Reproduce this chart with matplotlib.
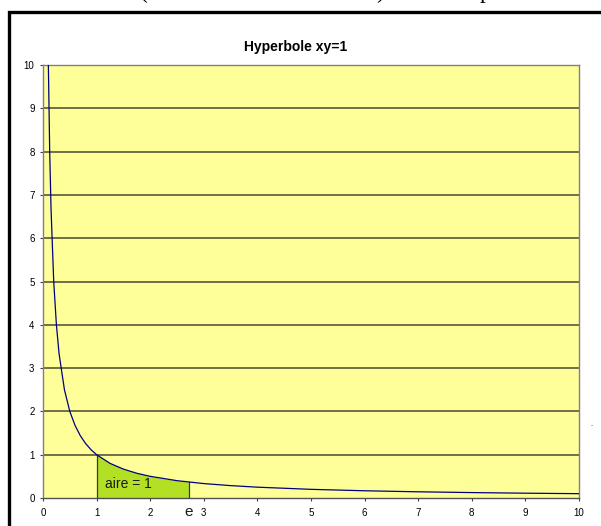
import matplotlib
matplotlib.use("Agg")
import matplotlib.pyplot as plt
from matplotlib.patches import Rectangle

# data
curve_x = [0.1, 0.125, 0.15, 0.2, 0.25, 0.3, 0.4, 0.5, 0.6, 0.7, 0.8, 0.9, 1.0,
           1.25, 1.5, 1.75, 2.0, 2.5, 3.0, 3.5, 4.0, 5.0, 6.0, 7.0, 8.0, 9.0, 10.0]
curve_y = [10.0, 8.0, 6.67, 5.0, 4.0, 3.33, 2.5, 2.0, 1.67, 1.43, 1.25, 1.11, 1.0,
           0.8, 0.667, 0.571, 0.5, 0.4, 0.333, 0.286, 0.25, 0.2, 0.167, 0.143, 0.125, 0.111, 0.1]
area_x = [1.0, 1.25, 1.5, 1.75, 2.0, 2.25, 2.5, 2.718]
area_y = [1.0, 0.8, 0.667, 0.571, 0.5, 0.444, 0.4, 0.368]
x_ticks = [0, 1, 2, 3, 4, 5, 6, 7, 8, 9, 10]
y_ticks = [0, 1, 2, 3, 4, 5, 6, 7, 8, 9, 10]
e_value = 2.718
title = "Hyperbole xy=1"
area_label = "aire = 1"

W, H = 601, 526
fig = plt.figure(figsize=(W / 100, H / 100), dpi=100)
fig.patch.set_facecolor("white")

ax = fig.add_axes([43 / W, 1 - 498 / H, (579 - 43) / W, (498 - 65) / H])
ax.set_facecolor("#ffff99")
ax.set_xlim(0, 10)
ax.set_ylim(0, 10)

for yv in y_ticks[1:-1]:
    ax.axhline(yv, color="#707048", lw=1.4, zorder=1)

ax.fill_between(area_x, 0, area_y, color="#b3e024", lw=0, zorder=2)
ax.plot([area_x[0], area_x[0]], [0, area_y[0]], color="#3a3a30", lw=0.9, zorder=3)
ax.plot([area_x[-1], area_x[-1]], [0, area_y[-1]], color="#3a3a30", lw=0.9, zorder=3)
ax.plot(curve_x, curve_y, color="#000080", lw=0.9, zorder=4)

ax.text(1.16, 0.32, area_label, fontsize=10, family="Liberation Sans",
        color="#1a1a1a", va="center", ha="left", zorder=5)
ax.text(e_value, -0.32, "e", fontsize=11, family="Liberation Sans",
        color="#1a1a1a", va="center", ha="center", clip_on=False)

ax.set_xticks(x_ticks)
ax.set_yticks(y_ticks)
ax.set_xticklabels([str(v) for v in x_ticks], family="Liberation Sans", fontsize=7)
ax.set_yticklabels([str(v) for v in y_ticks], family="Liberation Sans", fontsize=7)
ax.tick_params(axis="x", direction="out", length=2.5, width=0.8, color="#404040", pad=4.5)
ax.tick_params(axis="y", direction="out", length=2.5, width=0.8, color="#404040", pad=3.6)
for s in ax.spines.values():
    s.set_color("#808080")
    s.set_linewidth(1.0)
ax.spines["bottom"].set_color("#505050")

fig.text(296 / W, 1 - 47 / H, title, ha="center", va="center",
         fontsize=10, fontweight="bold", family="Liberation Sans")

# outer frame (cut by the image edges)
fig.patches.append(Rectangle((8.5 / W, -0.2), 1.5, 1.2 - 11.5 / H,
                             transform=fig.transFigure, fill=False,
                             edgecolor="black", lw=2.4, clip_on=False))

# fragments of surrounding document text (only their lower tips show)
for px, ch in [(144, "("), (380, ")"), (486, "p")]:
    fig.text(px / W, 1 + 2 / H, ch, ha="center", va="baseline",
             fontsize=17, family="Liberation Serif", color="black")
fig.text(592 / W, 1 - 426 / H, ".", ha="center", va="baseline",
         fontsize=6, family="Liberation Serif", color="#333333")

fig.savefig("out.png", dpi=100, facecolor="white")
